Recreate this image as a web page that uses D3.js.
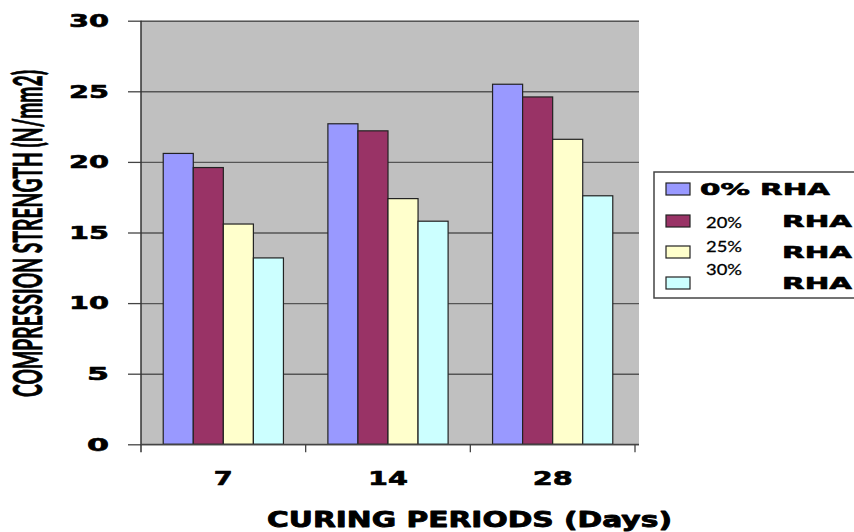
<!DOCTYPE html>
<html>
<head>
<meta charset="utf-8">
<script src="https://cdn.jsdelivr.net/npm/d3@7"></script>
<style>
  html, body { margin: 0; padding: 0; background: #fff; }
  svg { display: block; }
</style>
</head>
<body>
<svg id="chart" width="854" height="532"></svg>
<script>
// ---- data ----
const categories = ["7", "14", "28"];
const seriesNames = ["0% RHA", "20% RHA", "25% RHA", "30% RHA"];
const rha0  = [20.6, 22.7, 25.5];
const rha20 = [19.6, 22.2, 24.6];
const rha25 = [15.6, 17.4, 21.6];
const rha30 = [13.2, 15.8, 17.6];
const yTicks = [0, 5, 10, 15, 20, 25, 30];
const yTitle = "COMPRESSION STRENGTH (N/mm2)";
const xTitle = "CURING PERIODS (Days)";

const seriesValues = [rha0, rha20, rha25, rha30];
const colors = ["#9999FF", "#993366", "#FFFFCC", "#CCFFFF"];

const svg = d3.select("#chart");
const plotL = 141, plotR = 635, plotT = 20.7, plotB = 444.3;

const y = d3.scaleLinear().domain([0, 30]).range([plotB, plotT]);
const x0 = d3.scaleBand().domain(categories).range([plotL, plotR]).padding(0);
const bw = x0.bandwidth();
const x1 = d3.scaleBand().domain(d3.range(seriesNames.length))
  .range([bw * 0.135, bw * 0.865]).padding(0);

const boldFont = "'DejaVu Sans', Verdana, sans-serif";

// helper: text fitted to a given width
function fitText(g, str, xStart, yBase, size, width, opts = {}) {
  const t = g.append("text")
    .attr("x", xStart).attr("y", yBase)
    .attr("font-family", opts.family || boldFont)
    .attr("font-weight", opts.weight || "bold")
    .attr("font-size", size)
    .attr("fill", "#000")
    .attr("textLength", width)
    .attr("lengthAdjust", "spacingAndGlyphs")
    .text(str);
  if (opts.heavy !== false) {
    t.attr("stroke", "#000").attr("stroke-width", opts.sw || 0.6)
     .attr("stroke-linejoin", "round").attr("paint-order", "stroke");
  }
  return t;
}

// plot background
svg.append("rect")
  .attr("x", plotL).attr("y", plotT)
  .attr("width", plotR - plotL + 4).attr("height", plotB - plotT)
  .attr("fill", "#C0C0C0");

// gridlines
const grid = svg.append("g").attr("transform", `translate(${plotL},0)`)
  .call(d3.axisLeft(y).tickValues(yTicks).tickSize(-(plotR - plotL + 4)).tickFormat(""));
grid.select(".domain").remove();
grid.selectAll(".tick line").attr("stroke", "#555").attr("stroke-width", 1.4);

// bars
const groups = svg.append("g").selectAll("g")
  .data(categories).join("g")
  .attr("transform", d => `translate(${x0(d)},0)`);

groups.selectAll("rect")
  .data((c, ci) => seriesValues.map((vals, si) => ({ si, v: vals[ci] })))
  .join("rect")
  .attr("x", d => x1(d.si))
  .attr("y", d => y(d.v))
  .attr("width", x1.bandwidth())
  .attr("height", d => y(0) - y(d.v))
  .attr("fill", d => colors[d.si])
  .attr("stroke", "#222")
  .attr("stroke-width", 1.2);

// y axis with outer ticks
const yAxis = svg.append("g").attr("transform", `translate(${plotL},0)`)
  .call(d3.axisLeft(y).tickValues(yTicks).tickSize(13).tickSizeOuter(0).tickFormat(""));
yAxis.select(".domain").remove();
yAxis.selectAll(".tick line").attr("stroke", "#444").attr("stroke-width", 1.3);
svg.append("line")
  .attr("x1", plotL).attr("x2", plotL)
  .attr("y1", plotT).attr("y2", plotB + 8)
  .attr("stroke", "#333").attr("stroke-width", 1.5);

// y tick labels
yTicks.forEach(t => {
  const s = String(t);
  const w = s.length === 1 ? 22 : 40;
  fitText(svg, s, 109 - w, y(t) + 6.3, 17, w);
});

// x axis line and ticks at category boundaries
svg.append("line")
  .attr("x1", plotL).attr("x2", plotR + 4)
  .attr("y1", plotB).attr("y2", plotB)
  .attr("stroke", "#444").attr("stroke-width", 1.3);
const boundaries = categories.map(c => x0(c)).concat([x0(categories[categories.length - 1]) + bw]);
svg.append("g").selectAll("line").data(boundaries.slice(1)).join("line")
  .attr("x1", d => d).attr("x2", d => d)
  .attr("y1", plotB).attr("y2", plotB + 8)
  .attr("stroke", "#444").attr("stroke-width", 1.3);

// x tick labels
categories.forEach(c => {
  const w = c.length === 1 ? 19 : 40;
  fitText(svg, c, x0(c) + bw / 2 - w / 2, 485, 19, w);
});

// x title
fitText(svg, xTitle, 267, 527, 20.5, 405, { sw: 0.8 });

// y title (rotated, stretched across its thickness)
const yt = svg.append("g").attr("transform", "translate(42,233.5) rotate(-90) scale(1,1.75)");
fitText(yt, yTitle, -163.5, 0, 23, 327, { family: "Lato, 'Open Sans', sans-serif", sw: 0.5 });

// legend
const lg = svg.append("g");
lg.append("rect")
  .attr("x", 654).attr("y", 172).attr("width", 220).attr("height", 126)
  .attr("fill", "#fff").attr("stroke", "#444").attr("stroke-width", 1.5);
const swatchTops = [183, 215, 246, 277];
seriesNames.forEach((name, i) => {
  lg.append("rect")
    .attr("x", 666).attr("y", swatchTops[i])
    .attr("width", 24).attr("height", 12)
    .attr("fill", colors[i]).attr("stroke", "#222").attr("stroke-width", 1.2);
});
// first entry on one line
fitText(lg, seriesNames[0], 700, 195, 16.5, 130);
// other entries: percentage in narrow font, "RHA" aligned right
const pctBase = [228, 252, 275];
const rhaBase = [227, 258, 289];
seriesNames.slice(1).forEach((name, i) => {
  const parts = name.split(" ");
  fitText(lg, parts[0], 706, pctBase[i], 16, 36, { family: "Lato, sans-serif", weight: "normal", sw: 0.3 });
  fitText(lg, parts[1], 782, rhaBase[i], 16.5, 70);
});
</script>
</body>
</html>
